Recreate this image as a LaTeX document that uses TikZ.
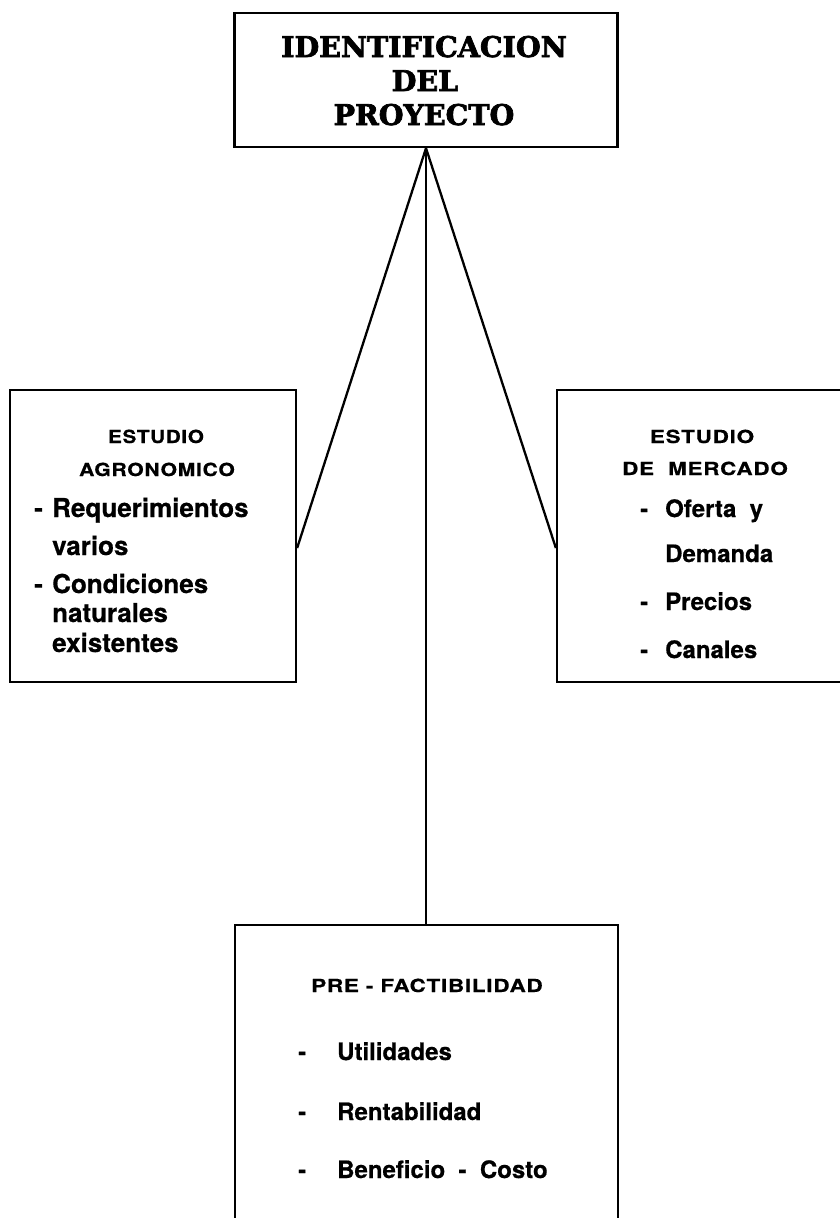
\documentclass[tikz,border=0pt]{standalone}
\usepackage{fontspec}
\setmainfont{TeX Gyre Heros}
\newfontfamily\titlefont[BoldFeatures={FakeBold=2.5}]{DejaVu Serif}
\newfontfamily\headfont[FakeStretch=1.25,LetterSpace=4,BoldFeatures={FakeBold=0.5}]{TeX Gyre Heros}
\newfontfamily\itemfont[BoldFeatures={FakeBold=0.6}]{TeX Gyre Heros}
\begin{document}
\begin{tikzpicture}[x=1pt,y=-1pt,
  frame/.style={draw, line width=2.3pt, rectangle, inner sep=0pt},
  link/.style={line width=2.3pt},
  ttl/.style={anchor=base, inner sep=0pt, font=\titlefont\bfseries\fontsize{28.5}{28.5}\selectfont},
  hdr/.style={anchor=base, inner sep=0pt, font=\headfont\bfseries\fontsize{18}{18}\selectfont},
  litm/.style={anchor=base west, inner sep=0pt, font=\itemfont\bfseries\fontsize{26}{26}\selectfont},
  ritm/.style={anchor=base west, inner sep=0pt, font=\itemfont\bfseries\fontsize{24}{24}\selectfont},
  bitm/.style={anchor=base west, inner sep=0pt, font=\itemfont\bfseries\fontsize{24}{24}\selectfont}]
\useasboundingbox (0,0) rectangle (840,1218);
\clip (0,0) rectangle (840,1218);
\fill[white] (0,0) rectangle (840,1218);

% boxes
\node[frame, minimum width=383pt, minimum height=134pt] (ident) at (426,80) {};
\node[frame, minimum width=286pt, minimum height=292pt] (agro) at (153,536) {};
\node[frame, minimum width=313pt, minimum height=292pt] (merc) at (713.5,536) {};
\node[frame, minimum width=383pt, minimum height=320pt] (pre) at (426.5,1085) {};

% connectors
\draw[link] (ident.south) -- ([yshift=-12pt]agro.east);
\draw[link] (ident.south) -- ([yshift=-12pt]merc.west);
\draw[link] (ident.south) -- (ident.south |- pre.north);

% title
\node[ttl] (t1) at (424,57) {IDENTIFICACION};
\node[ttl] (t2) at (425,91) {DEL};
\node[ttl] (t3) at (424,125) {PROYECTO};

% agronomic study
\node[hdr] (a1) at (156,443) {\scalebox{0.92}[1]{ESTUDIO}};
\node[hdr] (a2) at (157,476) {\scalebox{0.94}[1]{AGRONOMICO}};
\node[litm] (ad1) at (34,517) {-};
\node[litm] (ai1) at (52,517) {Requerimientos};
\node[litm] (ai2) at (52,555) {varios};
\node[litm] (ad2) at (34,593) {-};
\node[litm] (ai3) at (52,593) {Condiciones};
\node[litm] (ai4) at (52,622) {naturales};
\node[litm] (ai5) at (52,652) {existentes};

% market study
\node[hdr] (m1) at (702,443) {ESTUDIO};
\node[hdr] (m2) at (705,475) {DE\ \ MERCADO};
\node[ritm] (md1) at (640,517) {-};
\node[ritm] (mi1) at (665,517) {Oferta\ \ y};
\node[ritm] (mi2) at (665,562) {Demanda};
\node[ritm] (md2) at (640,610) {-};
\node[ritm] (mi3) at (665,610) {Precios};
\node[ritm] (md3) at (640,658) {-};
\node[ritm] (mi4) at (665,658) {Canales};

% pre-feasibility
\node[hdr] (p1) at (427,992) {PRE\ -\ FACTIBILIDAD};
\node[bitm] (pd1) at (298,1060) {-};
\node[bitm] (pi1) at (337,1060) {Utilidades};
\node[bitm] (pd2) at (298,1120) {-};
\node[bitm] (pi2) at (337,1120) {Rentabilidad};
\node[bitm] (pd3) at (298,1178) {-};
\node[bitm] (pi3) at (337,1178) {Beneficio\ \ -\ \ Costo};
\end{tikzpicture}
\end{document}
